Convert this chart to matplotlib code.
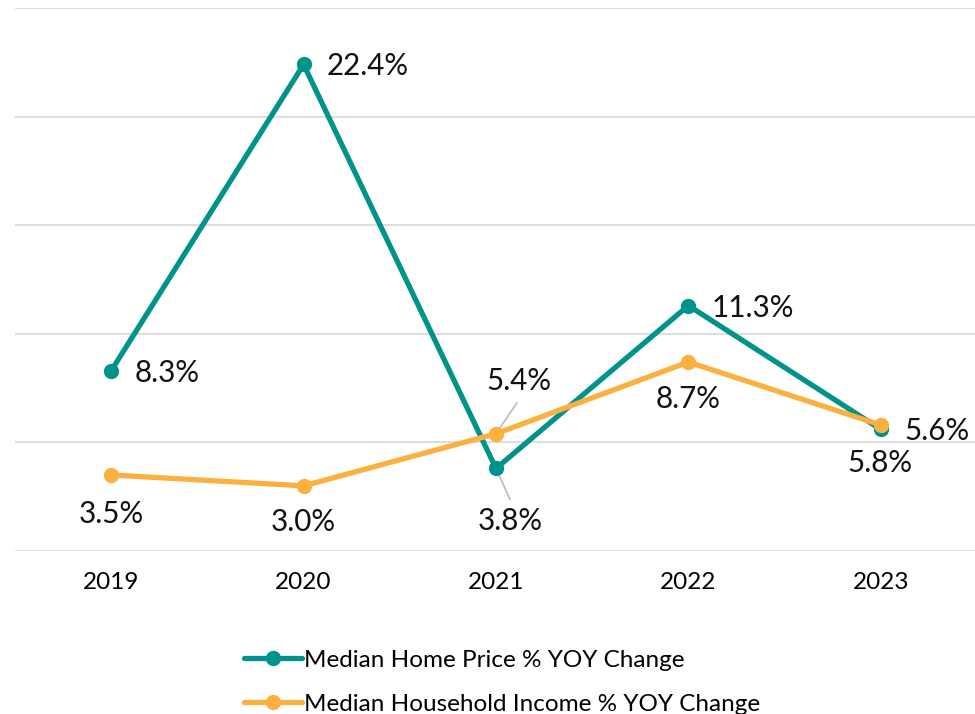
import matplotlib
matplotlib.use("Agg")
import matplotlib.pyplot as plt

years = ["2019", "2020", "2021", "2022", "2023"]
home_price = [8.3, 22.4, 3.8, 11.3, 5.6]
income = [3.5, 3.0, 5.4, 8.7, 5.8]
home_label = "Median Home Price % YOY Change"
income_label = "Median Household Income % YOY Change"

TEAL = "#00938B"
ORANGE = "#FBB040"

plt.rcParams['font.family'] = ['Lato', 'DejaVu Sans']

fig = plt.figure(figsize=(9.75, 7.14), dpi=100)
ax = fig.add_axes([15/975, 1-551/714, (977-15)/975, (551-8)/714])

x = list(range(len(years)))
ax.plot(x, home_price, color=TEAL, lw=3.8, marker='o', ms=10, label=home_label, zorder=3,
        solid_capstyle='round')
ax.plot(x, income, color=ORANGE, lw=3.8, marker='o', ms=10, label=income_label, zorder=4,
        solid_capstyle='round')

ax.set_xlim(-0.5, len(years) - 0.5)
ax.set_ylim(0, 25)
ax.set_yticks([0, 5, 10, 15, 20, 25])
ax.set_yticklabels([])
ax.grid(axis='y', color='#DDDDDD', lw=1.5)
ax.set_axisbelow(True)
ax.tick_params(axis='both', length=0)
ax.set_xticks(x)
ax.set_xticklabels(years, fontsize=17.5)
ax.tick_params(axis='x', pad=15)
for s in ax.spines.values():
    s.set_visible(False)

# data labels (offsets in pixels)
fs = 21.3
home_offsets = [(23, -2), (23, -2), (14, -53), (23, -2), (24, -2)]
home_ha = ['left', 'left', 'center', 'left', 'left']
income_offsets = [(0, -39), (0, -36), (23, 53), (0, -37), (-1, -38)]
income_ha = ['center', 'center', 'center', 'center', 'center']

for i, v in enumerate(home_price):
    dx, dy = home_offsets[i]
    ax.annotate(f"{v:.1f}%", (x[i], v), xytext=(dx, dy), textcoords='offset pixels',
                ha=home_ha[i], va='center', fontsize=fs, color='#111111', zorder=5)
for i, v in enumerate(income):
    dx, dy = income_offsets[i]
    ax.annotate(f"{v:.1f}%", (x[i], v), xytext=(dx, dy), textcoords='offset pixels',
                ha=income_ha[i], va='center', fontsize=fs, color='#111111', zorder=5)

# leader lines for 2021 labels
ax.annotate("", (x[2], income[2]), xytext=(21, 31), textcoords='offset pixels',
            arrowprops=dict(arrowstyle='-', color='#BBBBBB', lw=1.2, shrinkA=0, shrinkB=3), zorder=2)
ax.annotate("", (x[2], home_price[2]), xytext=(14, -31), textcoords='offset pixels',
            arrowprops=dict(arrowstyle='-', color='#BBBBBB', lw=1.2, shrinkA=0, shrinkB=3), zorder=2)

leg = fig.legend(loc='upper center', bbox_to_anchor=(0.515, 1-640/714), ncol=1,
                 frameon=False, fontsize=17.5, handlelength=2.4, handletextpad=0.1,
                 labelspacing=0.95, borderaxespad=0)

fig.savefig("out.png", dpi=100)
